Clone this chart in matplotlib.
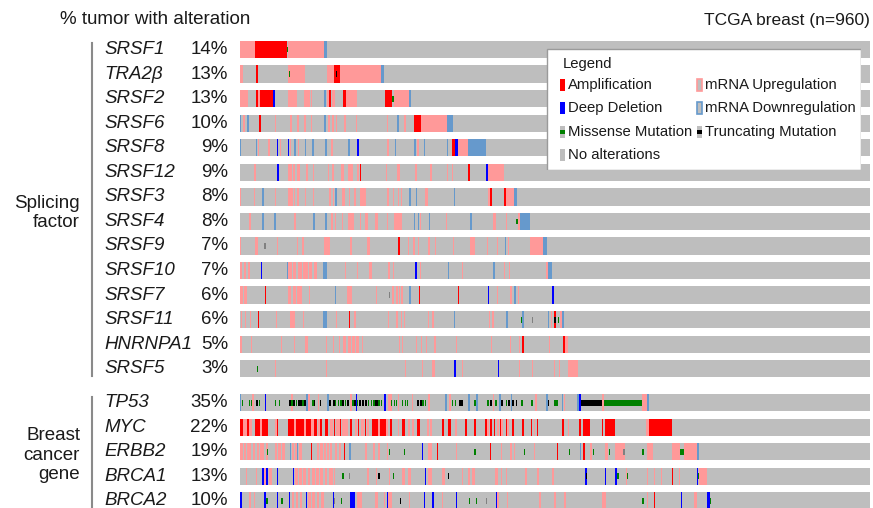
import matplotlib
matplotlib.use("Agg")
import matplotlib.pyplot as plt
from matplotlib.patches import Rectangle
from matplotlib.lines import Line2D
from matplotlib.transforms import blended_transform_factory

plt.rcParams['font.family'] = ['Liberation Sans', 'DejaVu Sans']

N_SAMPLES = 960

# Alteration events per gene: (first sample, number of samples, type)
# A = amplification, D = deep deletion, U = mRNA up, W = mRNA down,
# M = missense, T = truncating, O = other mutation
SRSF1 = [(0, 23, 'U'), (23, 48, 'A'), (72, 1, 'M'), (73, 55, 'U'), (128, 5, 'W')]
TRA2B = [(0, 5, 'U'), (24, 3, 'A'), (73, 26, 'U'), (75, 1, 'M'), (133, 11, 'U'),
         (143, 9, 'A'), (146, 2, 'T'), (152, 1, 'M'), (152, 63, 'U'), (215, 5, 'W')]
SRSF2 = [(0, 12, 'U'), (24, 3, 'A'), (27, 3, 'U'), (30, 20, 'A'), (50, 3, 'D'),
         (73, 14, 'U'), (98, 8, 'U'), (108, 2, 'U'), (128, 3, 'W'), (133, 3, 'U'),
         (136, 3, 'A'), (140, 5, 'U'), (157, 5, 'A'), (162, 17, 'U'), (221, 11, 'A'),
         (232, 2, 'M'), (234, 23, 'U'), (257, 4, 'W')]
SRSF6 = [(0, 2, 'W'), (5, 2, 'U'), (11, 2, 'W'), (29, 3, 'A'), (53, 2, 'U'), (76, 3, 'U'),
         (87, 3, 'U'), (98, 3, 'U'), (108, 2, 'U'), (128, 3, 'W'), (134, 3, 'U'),
         (140, 3, 'U'), (146, 2, 'U'), (158, 3, 'U'), (177, 2, 'U'), (224, 2, 'U'),
         (239, 3, 'W'), (250, 3, 'U'), (265, 11, 'A'), (276, 40, 'U'), (316, 8, 'W')]
SRSF8 = [(0, 2, 'W'), (24, 2, 'W'), (27, 2, 'U'), (43, 3, 'U'), (56, 2, 'D'), (61, 2, 'U'),
         (73, 2, 'D'), (76, 2, 'U'), (82, 3, 'W'), (88, 2, 'U'), (99, 2, 'W'), (110, 2, 'W'),
         (130, 2, 'W'), (139, 3, 'U'), (165, 2, 'W'), (178, 3, 'D'), (224, 3, 'U'),
         (236, 2, 'W'), (265, 3, 'W'), (270, 2, 'U'), (280, 2, 'W'), (315, 2, 'W'),
         (323, 5, 'A'), (328, 4, 'D'), (332, 15, 'U'), (347, 28, 'W')]
SRSF12 = [(21, 3, 'U'), (56, 3, 'D'), (73, 6, 'U'), (81, 3, 'U'), (87, 4, 'U'), (101, 2, 'U'),
          (111, 2, 'U'), (134, 2, 'U'), (140, 3, 'U'), (154, 5, 'U'), (165, 7, 'U'),
          (178, 4, 'U'), (183, 2, 'A'), (222, 2, 'U'), (239, 5, 'U'), (267, 2, 'U'),
          (290, 2, 'U'), (315, 2, 'U'), (323, 2, 'U'), (348, 2, 'A'), (375, 3, 'D'),
          (378, 24, 'U')]
SRSF3 = [(0, 2, 'U'), (21, 2, 'U'), (33, 3, 'W'), (53, 2, 'U'), (73, 8, 'U'), (82, 2, 'U'),
         (87, 3, 'U'), (99, 2, 'U'), (111, 2, 'U'), (136, 2, 'U'), (141, 2, 'U'),
         (145, 3, 'W'), (155, 5, 'U'), (166, 2, 'U'), (174, 2, 'U'), (183, 9, 'U'),
         (224, 3, 'U'), (233, 2, 'U'), (240, 2, 'U'), (245, 2, 'U'), (258, 2, 'W'),
         (268, 2, 'W'), (282, 5, 'U'), (326, 2, 'W'), (378, 3, 'U'), (381, 3, 'A'),
         (402, 3, 'A'), (405, 12, 'U'), (417, 5, 'W')]
SRSF4 = [(14, 2, 'U'), (34, 3, 'W'), (52, 3, 'W'), (83, 2, 'U'), (111, 3, 'W'), (130, 2, 'W'),
         (139, 2, 'U'), (145, 2, 'U'), (155, 2, 'U'), (165, 9, 'U'), (183, 2, 'U'),
         (190, 5, 'U'), (206, 4, 'U'), (224, 2, 'U'), (235, 12, 'U'), (265, 2, 'W'),
         (271, 2, 'W'), (274, 2, 'U'), (288, 2, 'W'), (314, 2, 'U'), (351, 2, 'W'),
         (385, 5, 'U'), (405, 2, 'U'), (421, 2, 'M'), (423, 4, 'U'), (427, 15, 'W')]
SRSF9 = [(0, 2, 'U'), (23, 5, 'U'), (37, 2, 'O'), (56, 2, 'U'), (87, 2, 'U'), (95, 2, 'U'),
         (128, 9, 'U'), (168, 2, 'U'), (194, 4, 'U'), (241, 3, 'A'), (256, 2, 'U'),
         (264, 2, 'U'), (271, 2, 'U'), (287, 2, 'U'), (297, 2, 'U'), (324, 2, 'U'),
         (351, 7, 'U'), (376, 2, 'U'), (391, 2, 'U'), (404, 2, 'W'), (408, 2, 'U'),
         (442, 20, 'U'), (462, 6, 'W')]
SRSF10 = [(0, 3, 'U'), (6, 3, 'U'), (12, 3, 'U'), (32, 2, 'D'), (72, 2, 'W'), (73, 6, 'U'),
          (81, 5, 'U'), (88, 6, 'U'), (96, 7, 'U'), (105, 5, 'U'), (112, 6, 'U'),
          (126, 6, 'W'), (160, 2, 'U'), (178, 2, 'U'), (197, 4, 'U'), (226, 2, 'U'),
          (233, 2, 'U'), (267, 2, 'D'), (274, 2, 'U'), (317, 2, 'W'), (338, 2, 'U'),
          (386, 2, 'W'), (402, 2, 'U'), (410, 2, 'U'), (466, 3, 'U'), (469, 6, 'W')]
SRSF7 = [(0, 4, 'U'), (6, 4, 'U'), (38, 2, 'A'), (73, 5, 'U'), (80, 5, 'U'), (87, 7, 'U'),
         (105, 2, 'U'), (145, 2, 'W'), (163, 8, 'U'), (207, 2, 'U'), (227, 2, 'O'),
         (232, 3, 'U'), (237, 3, 'U'), (242, 2, 'U'), (246, 2, 'U'), (258, 2, 'W'),
         (273, 2, 'A'), (332, 2, 'A'), (378, 2, 'D'), (391, 2, 'U'), (412, 2, 'U'),
         (418, 2, 'W'), (423, 2, 'U'), (475, 3, 'D')]
SRSF11 = [(1, 2, 'U'), (7, 2, 'U'), (15, 2, 'U'), (27, 2, 'A'), (55, 2, 'U'), (76, 8, 'U'),
          (96, 2, 'U'), (126, 6, 'W'), (146, 2, 'U'), (166, 2, 'A'), (174, 2, 'U'),
          (225, 2, 'U'), (238, 2, 'U'), (245, 2, 'U'), (250, 2, 'U'), (286, 2, 'U'),
          (293, 3, 'U'), (326, 2, 'W'), (379, 2, 'U'), (384, 3, 'U'), (406, 3, 'W'),
          (428, 2, 'M'), (430, 2, 'W'), (445, 2, 'O'), (469, 2, 'W'), (474, 2, 'U'),
          (478, 3, 'A'), (479, 2, 'T'), (484, 2, 'M'), (487, 3, 'U'), (490, 3, 'W')]
HNRNPA1 = [(0, 3, 'U'), (16, 2, 'U'), (62, 2, 'U'), (82, 2, 'U'), (99, 5, 'U'), (131, 2, 'U'),
           (141, 2, 'U'), (151, 2, 'U'), (157, 4, 'U'), (165, 4, 'U'), (171, 4, 'U'),
           (177, 4, 'U'), (186, 2, 'U'), (242, 2, 'U'), (247, 2, 'U'), (268, 2, 'U'),
           (276, 2, 'U'), (283, 2, 'U'), (296, 2, 'U'), (329, 2, 'U'), (382, 2, 'U'),
           (411, 2, 'U'), (425, 2, 'U'), (430, 2, 'A'), (471, 2, 'U'), (492, 3, 'A'),
           (495, 5, 'U')]
SRSF5 = [(26, 2, 'M'), (53, 2, 'U'), (131, 2, 'U'), (251, 2, 'U'), (277, 2, 'U'), (293, 4, 'U'),
         (326, 3, 'D'), (338, 2, 'U'), (393, 2, 'D'), (425, 2, 'U'), (445, 2, 'U'),
         (478, 2, 'U'), (486, 2, 'U'), (500, 15, 'U')]
TP53 = [(0, 2, 'W'), (3, 2, 'M'), (13, 2, 'M'), (17, 2, 'M'), (19, 2, 'U'), (24, 3, 'T'),
        (29, 2, 'M'), (38, 2, 'D'), (53, 2, 'M'), (59, 2, 'M'), (78, 3, 'U'), (74, 3, 'T'),
        (78, 2, 'M'), (81, 3, 'T'), (85, 2, 'M'), (88, 3, 'T'), (92, 2, 'T'), (95, 2, 'M'),
        (98, 2, 'T'), (101, 2, 'W'), (104, 3, 'U'), (110, 2, 'M'), (113, 2, 'T'),
        (119, 2, 'U'), (122, 2, 'T'), (133, 3, 'W'), (136, 3, 'T'), (141, 3, 'T'),
        (145, 2, 'M'), (149, 2, 'M'), (153, 2, 'M'), (156, 3, 'T'), (160, 2, 'M'),
        (163, 3, 'T'), (168, 2, 'U'), (171, 2, 'M'), (174, 3, 'T'), (177, 2, 'D'),
        (178, 2, 'M'), (181, 3, 'T'), (186, 3, 'T'), (191, 3, 'T'), (195, 2, 'M'),
        (199, 2, 'M'), (203, 3, 'M'), (206, 4, 'T'), (211, 2, 'M'), (215, 2, 'M'),
        (220, 3, 'D'), (226, 5, 'U'), (230, 2, 'M'), (234, 2, 'M'), (237, 2, 'M'),
        (241, 2, 'U'), (247, 2, 'M'), (251, 2, 'M'), (254, 2, 'M'), (262, 2, 'U'),
        (270, 3, 'T'), (274, 3, 'T'), (278, 2, 'M'), (282, 2, 'M'), (286, 3, 'U'),
        (313, 3, 'W'), (318, 3, 'U'), (323, 2, 'M'), (327, 2, 'M'), (333, 3, 'T'),
        (337, 3, 'T'), (348, 2, 'W'), (357, 2, 'M'), (360, 2, 'W'), (377, 2, 'M'),
        (381, 3, 'T'), (385, 2, 'U'), (389, 2, 'M'), (395, 2, 'W'), (397, 3, 'T'),
        (405, 2, 'M'), (409, 3, 'T'), (413, 2, 'W'), (415, 2, 'T'), (420, 2, 'T'),
        (428, 3, 'M'), (444, 3, 'M'), (450, 3, 'U'), (467, 2, 'W'), (469, 2, 'T'),
        (478, 6, 'M'), (490, 2, 'W'), (493, 2, 'U'), (514, 3, 'W'), (517, 3, 'D'),
        (520, 32, 'T'), (552, 3, 'U'), (555, 58, 'M'), (613, 7, 'U'), (620, 3, 'W')]
MYC = [(0, 5, 'A'), (5, 13, 'U'), (11, 2, 'A'), (23, 8, 'A'), (31, 3, 'U'), (34, 9, 'A'),
       (53, 3, 'U'), (56, 2, 'A'), (73, 9, 'A'), (82, 3, 'U'), (85, 12, 'A'), (97, 3, 'U'),
       (100, 8, 'A'), (108, 4, 'U'), (112, 5, 'A'), (119, 3, 'U'), (122, 3, 'A'),
       (130, 4, 'A'), (137, 5, 'U'), (143, 2, 'A'), (146, 6, 'U'), (152, 2, 'A'),
       (155, 9, 'U'), (168, 2, 'A'), (175, 4, 'U'), (180, 2, 'A'), (184, 5, 'U'),
       (190, 2, 'A'), (193, 3, 'U'), (201, 10, 'A'), (211, 3, 'U'), (214, 9, 'A'),
       (223, 3, 'U'), (229, 2, 'A'), (241, 2, 'U'), (247, 4, 'A'), (256, 3, 'U'),
       (262, 3, 'U'), (270, 4, 'A'), (285, 3, 'U'), (290, 3, 'U'), (308, 3, 'A'),
       (317, 4, 'A'), (328, 3, 'U'), (343, 3, 'A'), (356, 4, 'A'), (373, 3, 'A'),
       (377, 3, 'U'), (381, 3, 'A'), (387, 2, 'A'), (392, 3, 'U'), (396, 2, 'A'),
       (398, 3, 'U'), (405, 2, 'A'), (407, 3, 'U'), (415, 2, 'A'), (430, 2, 'A'),
       (443, 2, 'A'), (448, 2, 'U'), (452, 2, 'A'), (491, 2, 'A'), (500, 2, 'U'),
       (517, 2, 'A'), (523, 11, 'A'), (551, 2, 'A'), (556, 16, 'A'), (619, 4, 'U'),
       (623, 35, 'A')]
ERBB2 = [(0, 4, 'U'), (6, 3, 'U'), (11, 5, 'U'), (20, 3, 'U'), (26, 3, 'U'), (31, 5, 'U'),
         (39, 3, 'U'), (41, 2, 'M'), (53, 3, 'U'), (58, 4, 'U'), (64, 5, 'U'), (76, 2, 'W'),
         (79, 3, 'U'), (84, 3, 'U'), (87, 2, 'W'), (90, 4, 'U'), (108, 2, 'A'),
         (117, 3, 'U'), (122, 4, 'U'), (128, 3, 'U'), (133, 3, 'U'), (137, 3, 'U'),
         (145, 3, 'U'), (151, 3, 'U'), (158, 2, 'A'), (166, 3, 'W'), (191, 3, 'U'),
         (202, 3, 'U'), (211, 3, 'U'), (224, 2, 'U'), (227, 2, 'M'), (250, 2, 'M'),
         (277, 2, 'D'), (286, 3, 'U'), (290, 3, 'U'), (300, 2, 'A'), (329, 2, 'U'),
         (357, 2, 'M'), (381, 2, 'A'), (397, 2, 'U'), (412, 2, 'U'), (417, 2, 'U'),
         (432, 2, 'M'), (448, 2, 'U'), (483, 2, 'A'), (501, 2, 'M'), (518, 2, 'W'),
         (523, 2, 'A'), (534, 3, 'U'), (538, 2, 'M'), (556, 5, 'U'), (562, 2, 'M'),
         (572, 15, 'U'), (584, 2, 'O'), (613, 2, 'M'), (620, 9, 'U'), (658, 13, 'U'),
         (671, 6, 'M'), (677, 20, 'U'), (697, 2, 'W')]
BRCA1 = [(9, 2, 'U'), (24, 2, 'U'), (34, 2, 'D'), (37, 2, 'U'), (40, 2, 'D'), (44, 5, 'U'),
         (56, 2, 'D'), (80, 2, 'D'), (84, 4, 'U'), (90, 4, 'U'), (96, 5, 'U'), (103, 4, 'U'),
         (109, 5, 'U'), (116, 4, 'U'), (122, 5, 'U'), (129, 4, 'U'), (135, 6, 'U'),
         (143, 2, 'U'), (155, 3, 'M'), (166, 2, 'O'), (194, 2, 'U'), (207, 2, 'U'),
         (211, 2, 'T'), (227, 2, 'U'), (233, 2, 'M'), (247, 4, 'U'), (256, 5, 'U'),
         (282, 2, 'D'), (286, 6, 'U'), (308, 5, 'U'), (317, 2, 'T'), (338, 2, 'U'),
         (347, 3, 'U'), (354, 4, 'U'), (389, 4, 'U'), (397, 2, 'U'), (405, 2, 'U'),
         (435, 2, 'U'), (453, 2, 'U'), (476, 2, 'U'), (525, 3, 'D'), (527, 2, 'T'),
         (556, 2, 'D'), (572, 2, 'D'), (575, 2, 'M'), (588, 2, 'U'), (589, 2, 'M'),
         (620, 2, 'U'), (631, 2, 'U'), (641, 2, 'U'), (658, 2, 'A'), (669, 2, 'U'),
         (696, 2, 'D'), (698, 2, 'M'), (699, 13, 'U')]
BRCA2 = [(0, 3, 'D'), (14, 2, 'U'), (21, 2, 'U'), (37, 2, 'D'), (40, 2, 'M'), (56, 2, 'D'),
         (63, 2, 'M'), (74, 2, 'D'), (79, 4, 'U'), (85, 4, 'U'), (91, 3, 'U'), (100, 2, 'D'),
         (104, 4, 'U'), (110, 5, 'U'), (117, 4, 'U'), (123, 5, 'U'), (141, 2, 'D'),
         (143, 2, 'O'), (154, 2, 'M'), (168, 7, 'D'), (178, 8, 'U'), (206, 4, 'U'),
         (219, 2, 'U'), (224, 2, 'D'), (226, 5, 'U'), (244, 2, 'T'), (257, 2, 'U'),
         (280, 2, 'D'), (293, 2, 'D'), (308, 2, 'U'), (329, 2, 'D'), (349, 2, 'M'),
         (359, 2, 'M'), (375, 2, 'O'), (390, 2, 'D'), (392, 2, 'U'), (407, 2, 'U'),
         (456, 2, 'U'), (479, 2, 'U'), (494, 2, 'U'), (552, 5, 'U'), (613, 2, 'M'),
         (620, 2, 'U'), (631, 2, 'A'), (672, 2, 'D'), (692, 4, 'U'), (712, 4, 'D'),
         (716, 2, 'M')]

SPLICING_GENES = ['SRSF1', 'TRA2β', 'SRSF2', 'SRSF6', 'SRSF8', 'SRSF12', 'SRSF3',
                  'SRSF4', 'SRSF9', 'SRSF10', 'SRSF7', 'SRSF11', 'HNRNPA1', 'SRSF5']
SPLICING_PCT = ['14%', '13%', '13%', '10%', '9%', '9%', '8%', '8%', '7%', '7%',
                '6%', '6%', '5%', '3%']
SPLICING_EVENTS = [SRSF1, TRA2B, SRSF2, SRSF6, SRSF8, SRSF12, SRSF3, SRSF4, SRSF9,
                   SRSF10, SRSF7, SRSF11, HNRNPA1, SRSF5]

CANCER_GENES = ['TP53', 'MYC', 'ERBB2', 'BRCA1', 'BRCA2']
CANCER_PCT = ['35%', '22%', '19%', '13%', '10%']
CANCER_EVENTS = [TP53, MYC, ERBB2, BRCA1, BRCA2]

COLORS = {'A': '#FF0000', 'D': '#0000FF', 'U': '#FF9999', 'W': '#6699CC',
          'M': '#008000', 'T': '#000000', 'O': '#808080'}
GRAY = '#BEBEBE'
DRAW_ORDER = {'U': 0, 'W': 0, 'A': 1, 'D': 1, 'M': 2, 'T': 2, 'O': 2}

# ---- figure ----
W_PX, H_PX = 873, 508
fig = plt.figure(figsize=(W_PX / 100, H_PX / 100), dpi=100)

ROW_STEP = 24.55
FIRST_ROW_Y = 49.6
GROUP_GAP = 1.38          # extra rows between the two gene groups
ax = fig.add_axes([240 / W_PX, 0, 630 / W_PX, 1])
ax.set_xlim(0, N_SAMPLES)
ax.set_ylim((H_PX - FIRST_ROW_Y) / ROW_STEP, -FIRST_ROW_Y / ROW_STEP)
ax.axis('off')

BAR_H = 0.705
MUT_H = BAR_H / 3

rows = []
for i, (g, p, ev) in enumerate(zip(SPLICING_GENES, SPLICING_PCT, SPLICING_EVENTS)):
    rows.append((i, g, p, ev))
for j, (g, p, ev) in enumerate(zip(CANCER_GENES, CANCER_PCT, CANCER_EVENTS)):
    rows.append((len(SPLICING_GENES) - 1 + GROUP_GAP + j, g, p, ev))

lab_tr = blended_transform_factory(fig.transFigure, ax.transData)
for y, gene, pct, events in rows:
    ax.barh(y, N_SAMPLES, left=0, height=BAR_H, color=GRAY, linewidth=0)
    for start, width, kind in sorted(events, key=lambda e: DRAW_ORDER[e[2]]):
        h = MUT_H if DRAW_ORDER[kind] == 2 else BAR_H
        ax.barh(y, width, left=start, height=h, color=COLORS[kind], linewidth=0)
    ax.text(104 / W_PX, y, gene, transform=lab_tr, fontsize=13.5, style='italic',
            ha='left', va='center', color='#1a1a1a')
    ax.text(228 / W_PX, y, pct, transform=lab_tr, fontsize=13.5,
            ha='right', va='center', color='#1a1a1a')


def fx(px):
    return px / W_PX


def fy(py):
    return 1 - py / H_PX


fig.text(fx(60), fy(20), '% tumor with alteration', fontsize=13.5,
         ha='left', va='center', color='#1a1a1a')
fig.text(fx(870), fy(20), 'TCGA breast (n=960)', fontsize=12.5,
         ha='right', va='center', color='#1a1a1a')

# group brackets
for y0, y1 in [(43, 376), (397, 508)]:
    fig.add_artist(Line2D([fx(92), fx(92)], [fy(y0), fy(y1)], color='#8a8a8a', lw=1.5))
fig.text(fx(80), fy(213), 'Splicing\nfactor', fontsize=13.5, ha='right', va='center',
         multialignment='right', linespacing=1.22, color='#1a1a1a')
fig.text(fx(80), fy(455), 'Breast\ncancer\ngene', fontsize=13.5, ha='right', va='center',
         multialignment='right', linespacing=1.22, color='#1a1a1a')

# legend panel
LX, LY, LW, LH = 546, 48, 315, 122
lax = fig.add_axes([fx(LX), fy(LY + LH), LW / W_PX, LH / H_PX])
lax.set_xlim(0, LW)
lax.set_ylim(LH, 0)
lax.axis('off')
lax.add_patch(Rectangle((0.5, 0.5), LW - 1, LH - 1, facecolor='white',
                        edgecolor='#9a9a9a', lw=1))
lax.text(17, 16, 'Legend', fontsize=10.7, va='center', ha='left', color='#1a1a1a')

LEGEND_ITEMS = [
    ('Amplification', 'A', 0, 0), ('Deep Deletion', 'D', 0, 1),
    ('Missense Mutation', 'M', 0, 2), ('No alterations', None, 0, 3),
    ('mRNA Upregulation', 'U', 1, 0), ('mRNA Downregulation', 'W', 1, 1),
    ('Truncating Mutation', 'T', 1, 2),
]
col_x = [14, 151]
row_y = [37, 60, 84, 107]
ICON_W, ICON_H = 4.5, 12
for label, kind, c, r in LEGEND_ITEMS:
    x, y = col_x[c], row_y[r]
    if kind in ('A', 'D'):
        lax.add_patch(Rectangle((x, y - ICON_H / 2), ICON_W, ICON_H, facecolor=COLORS[kind], lw=0))
    elif kind in ('U', 'W'):
        lax.add_patch(Rectangle((x, y - ICON_H / 2), ICON_W, ICON_H, facecolor=GRAY,
                                edgecolor=COLORS[kind], lw=1.2))
    elif kind in ('M', 'T'):
        lax.add_patch(Rectangle((x, y - ICON_H / 2), ICON_W, ICON_H, facecolor=GRAY, lw=0))
        lax.add_patch(Rectangle((x, y - ICON_H / 6), ICON_W, ICON_H / 3,
                                facecolor=COLORS[kind], lw=0))
    else:
        lax.add_patch(Rectangle((x, y - ICON_H / 2), ICON_W, ICON_H, facecolor=GRAY, lw=0))
    lax.text(x + 8, y, label, fontsize=10.7, va='center', ha='left', color='#1a1a1a')

fig.savefig('out.png', dpi=100)
